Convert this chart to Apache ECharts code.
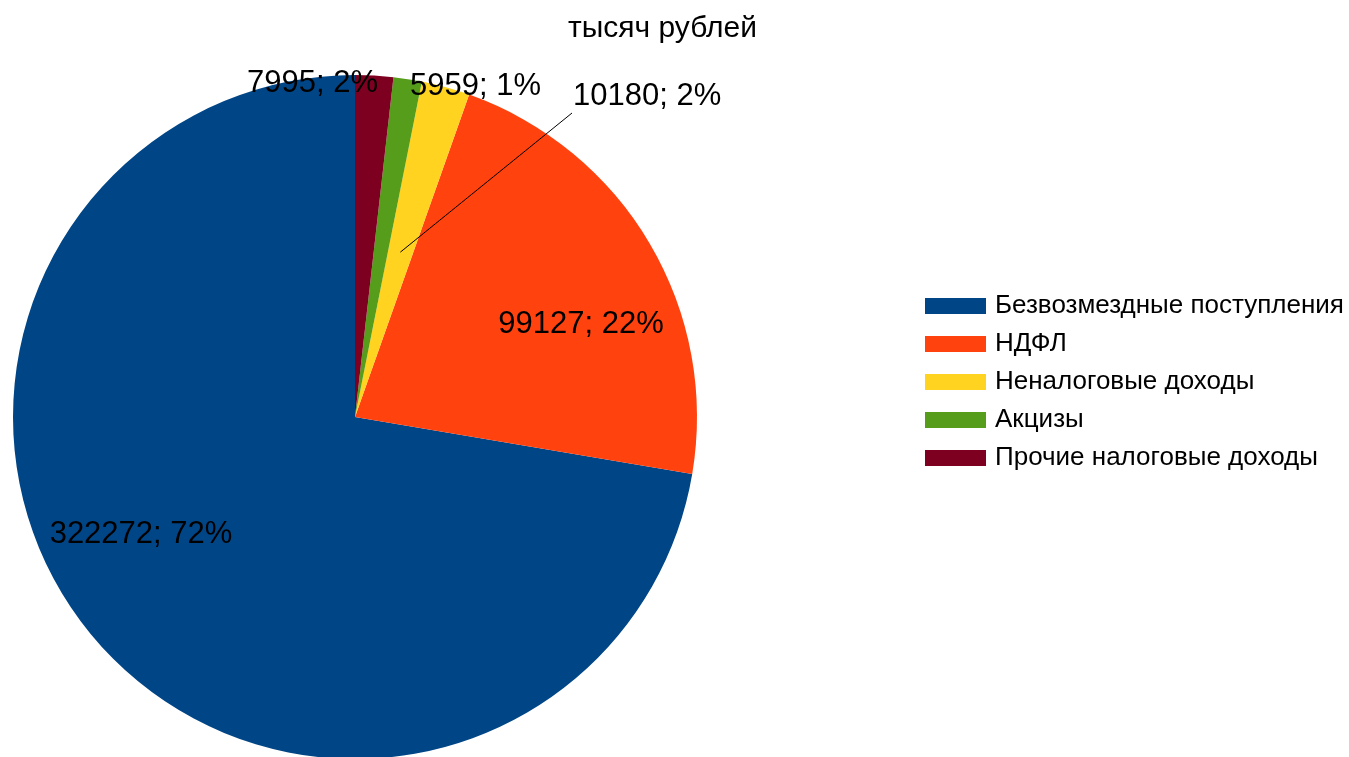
<!DOCTYPE html>
<html>
<head>
<meta charset="utf-8">
<script src="https://cdn.jsdelivr.net/npm/echarts@6/dist/echarts.min.js"></script>
<style>html,body{margin:0;padding:0;background:#fff}#c{width:1349px;height:757px}</style>
</head>
<body>
<div id="c"></div>
<script>
const titleText = 'тысяч рублей';
const categories = ['Безвозмездные поступления', 'НДФЛ', 'Неналоговые доходы', 'Акцизы', 'Прочие налоговые доходы'];
const values = [322272, 99127, 10180, 5959, 7995];
const percents = [72, 22, 2, 1, 2];
const colors = ['#004586', '#ff420e', '#ffd320', '#579d1c', '#7e0021'];

const CX = 355, CY = 417, R = 342;
// label placement (offset from pie centre), style only
const labelPlace = [
  {dx: -214, dy: 117, align: 'center'},
  {dx: 226, dy: -93, align: 'center'},
  {dx: 218, dy: -321, align: 'left', line: [217, -304]},
  {dx: 55, dy: -331, align: 'left'},
  {dx: -108, dy: -334, align: 'left'}
];

const total = values.reduce((a, b) => a + b, 0);
function midAngle(i) {
  let before = 0;
  for (let k = 0; k < i; k++) before += values[k];
  const frac = (before + values[i] / 2) / total;
  return Math.PI / 2 + frac * 2 * Math.PI; // counterclockwise from top
}

// leader line for the small label (drawn above sectors)
const leaderGraphics = [];
labelPlace.forEach((lp, i) => {
  if (!lp.line) return;
  const a = midAngle(i);
  leaderGraphics.push({
    type: 'polyline',
    z: 100,
    silent: true,
    shape: {points: [[CX + Math.cos(a) * R * 0.5, CY - Math.sin(a) * R * 0.5], [CX + lp.line[0], CY + lp.line[1]]]},
    style: {stroke: '#000', lineWidth: 1, fill: null}
  });
});

const chart = echarts.init(document.getElementById('c'));
chart.setOption({
  animation: false,
  backgroundColor: '#fff',
  title: {
    text: titleText,
    left: 563,
    top: 9,
    textStyle: {fontFamily: 'Liberation Sans', fontSize: 30, fontWeight: 'normal', color: '#000'}
  },
  graphic: leaderGraphics,
  legend: {
    orient: 'vertical',
    left: 920,
    top: 288,
    itemWidth: 61,
    itemHeight: 16,
    itemGap: 12,
    icon: 'rect',
    data: categories,
    textStyle: {fontFamily: 'Liberation Sans', fontSize: 26, color: '#000', padding: [0, 0, 0, 4]}
  },
  series: [{
    type: 'pie',
    center: [CX, CY],
    radius: R,
    startAngle: 90,
    clockwise: false,
    silent: true,
    avoidLabelOverlap: false,
    label: {
      show: true,
      fontFamily: 'Liberation Sans',
      fontSize: 31,
      color: '#000',
      formatter: p => values[p.dataIndex] + '; ' + percents[p.dataIndex] + '%'
    },
    labelLine: {show: false},
    labelLayout: function (p) {
      const lp = labelPlace[p.dataIndex];
      return {x: CX + lp.dx, y: CY + lp.dy, align: lp.align, verticalAlign: 'middle'};
    },
    data: categories.map((name, i) => ({
      name: name,
      value: values[i],
      itemStyle: {color: colors[i]},
      label: {position: i < 2 ? 'inside' : 'outside'}
    }))
  }]
});
</script>
</body>
</html>
